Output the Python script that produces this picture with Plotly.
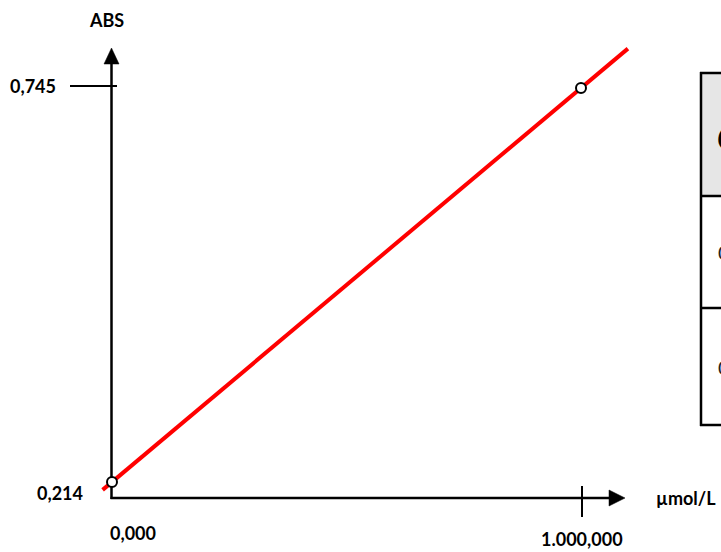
import plotly.graph_objects as go

# ---- data ----
conc = [0.0, 1.0]                 # µmol/L
absorb = [0.214, 0.745]           # ABS
x_tick_labels = ["0,000", "1.000,000"]
y_tick_labels = ["0,214", "0,745"]
x_title = "µmol/L"
y_title = "ABS"
table_header = "C"
table_rows = ["0,214", "0,745"]

W, H = 721, 552

# pixel anchors of the data frame (layout only)
PX0, PX1 = 112.0, 581.0   # pixel x of conc[0], conc[1]
PY0, PY1 = 482.0, 88.0    # pixel y of absorb[0], absorb[1]
sx = (PX1 - PX0) / (conc[1] - conc[0])
sy = (PY0 - PY1) / (absorb[1] - absorb[0])
x_range = [conc[0] - PX0 / sx, conc[0] + (W - PX0) / sx]
y_range = [absorb[0] - (H - PY0) / sy, absorb[0] + PY0 / sy]

def px(x):
    return x / W

def py(y):
    return 1 - y / H

FONT = "Lato, 'Open Sans', sans-serif"

# fitted line, extended a bit beyond the points
slope = (absorb[1] - absorb[0]) / (conc[1] - conc[0])
icpt = absorb[0] - slope * conc[0]
span = conc[1] - conc[0]
lx = [conc[0] - 0.02 * span, conc[1] + 0.10 * span]
ly = [icpt + slope * v for v in lx]

fig = go.Figure()
fig.add_trace(go.Scatter(x=lx, y=ly, mode="lines",
                         line=dict(color="#ff0000", width=4),
                         hoverinfo="skip", showlegend=False))
fig.add_trace(go.Scatter(x=conc, y=absorb, mode="markers",
                         marker=dict(size=10, color="white",
                                     line=dict(color="black", width=2)),
                         showlegend=False))

shapes = []
AX = 111.5
AY = 498.0
lw = 2.5
# y axis line + arrow
shapes.append(dict(type="line", xref="paper", yref="paper",
                   x0=px(AX), x1=px(AX), y0=py(AY + 1), y1=py(63),
                   line=dict(color="black", width=lw), layer="below"))
shapes.append(dict(type="path", xref="paper", yref="paper",
                   path=f"M {px(AX)} {py(48)} L {px(AX-7.5)} {py(64)} L {px(AX+7.5)} {py(64)} Z",
                   fillcolor="black", line=dict(color="black", width=0.5)))
# x axis line + arrow
shapes.append(dict(type="line", xref="paper", yref="paper",
                   x0=px(AX - 1), x1=px(610), y0=py(AY), y1=py(AY),
                   line=dict(color="black", width=lw), layer="below"))
shapes.append(dict(type="path", xref="paper", yref="paper",
                   path=f"M {px(625)} {py(AY)} L {px(609)} {py(AY-8)} L {px(609)} {py(AY+8)} Z",
                   fillcolor="black", line=dict(color="black", width=0.5)))
# y tick at 0,745 (data value)
shapes.append(dict(type="line", xref="paper", yref="y",
                   x0=px(70), x1=px(117), y0=absorb[1] + 2 / sy, y1=absorb[1] + 2 / sy,
                   line=dict(color="black", width=2), layer="below"))
# x tick at 1.000,000 (data value)
shapes.append(dict(type="line", xref="x", yref="paper",
                   x0=conc[1] + 1 / sx, x1=conc[1] + 1 / sx, y0=py(486), y1=py(517),
                   line=dict(color="black", width=2), layer="below"))

# partial table on the right edge
TX = 701
shapes.append(dict(type="rect", xref="paper", yref="paper",
                   x0=px(TX), x1=px(740), y0=py(196), y1=py(73),
                   fillcolor="#e6e6e6", line=dict(width=0), layer="below"))
for yy in (73, 196, 308, 425):
    shapes.append(dict(type="line", xref="paper", yref="paper",
                       x0=px(TX - 1), x1=px(740), y0=py(yy), y1=py(yy),
                       line=dict(color="black", width=2.5)))
shapes.append(dict(type="line", xref="paper", yref="paper",
                   x0=px(TX), x1=px(TX), y0=py(426), y1=py(72),
                   line=dict(color="black", width=2.5)))

ann = []
def label(text, x, y, size=18, bold=True, xanchor="center", italic=False, color="black"):
    t = text
    if bold:
        t = f"<b>{t}</b>"
    if italic:
        t = f"<i>{t}</i>"
    ann.append(dict(text=t, xref="paper", yref="paper", x=px(x), y=py(y),
                    xanchor=xanchor, yanchor="middle", showarrow=False,
                    font=dict(family=FONT, size=size, color=color)))

label(y_title, 106, 20)
label(y_tick_labels[1], 33, 86)
label(y_tick_labels[0], 60, 493)
label(x_tick_labels[0], 133, 533)
label(x_tick_labels[1], 582, 539)
label(x_title, 686, 498)
label(table_header, 715, 137, size=32, xanchor="left", italic=True)
label(table_rows[0], 716, 252, size=20, bold=False, xanchor="left", color="#222")
label(table_rows[1], 716, 367, size=20, bold=False, xanchor="left", color="#222")

fig.update_layout(
    width=W, height=H,
    margin=dict(l=0, r=0, t=0, b=0),
    paper_bgcolor="white", plot_bgcolor="rgba(0,0,0,0)",
    xaxis=dict(range=x_range, visible=False, fixedrange=True),
    yaxis=dict(range=y_range, visible=False, fixedrange=True),
    shapes=shapes, annotations=ann,
    showlegend=False,
)

fig.write_html("out.html", config={"displayModeBar": False},
               post_script="document.body.style.margin='0';document.body.style.overflow='hidden';")
